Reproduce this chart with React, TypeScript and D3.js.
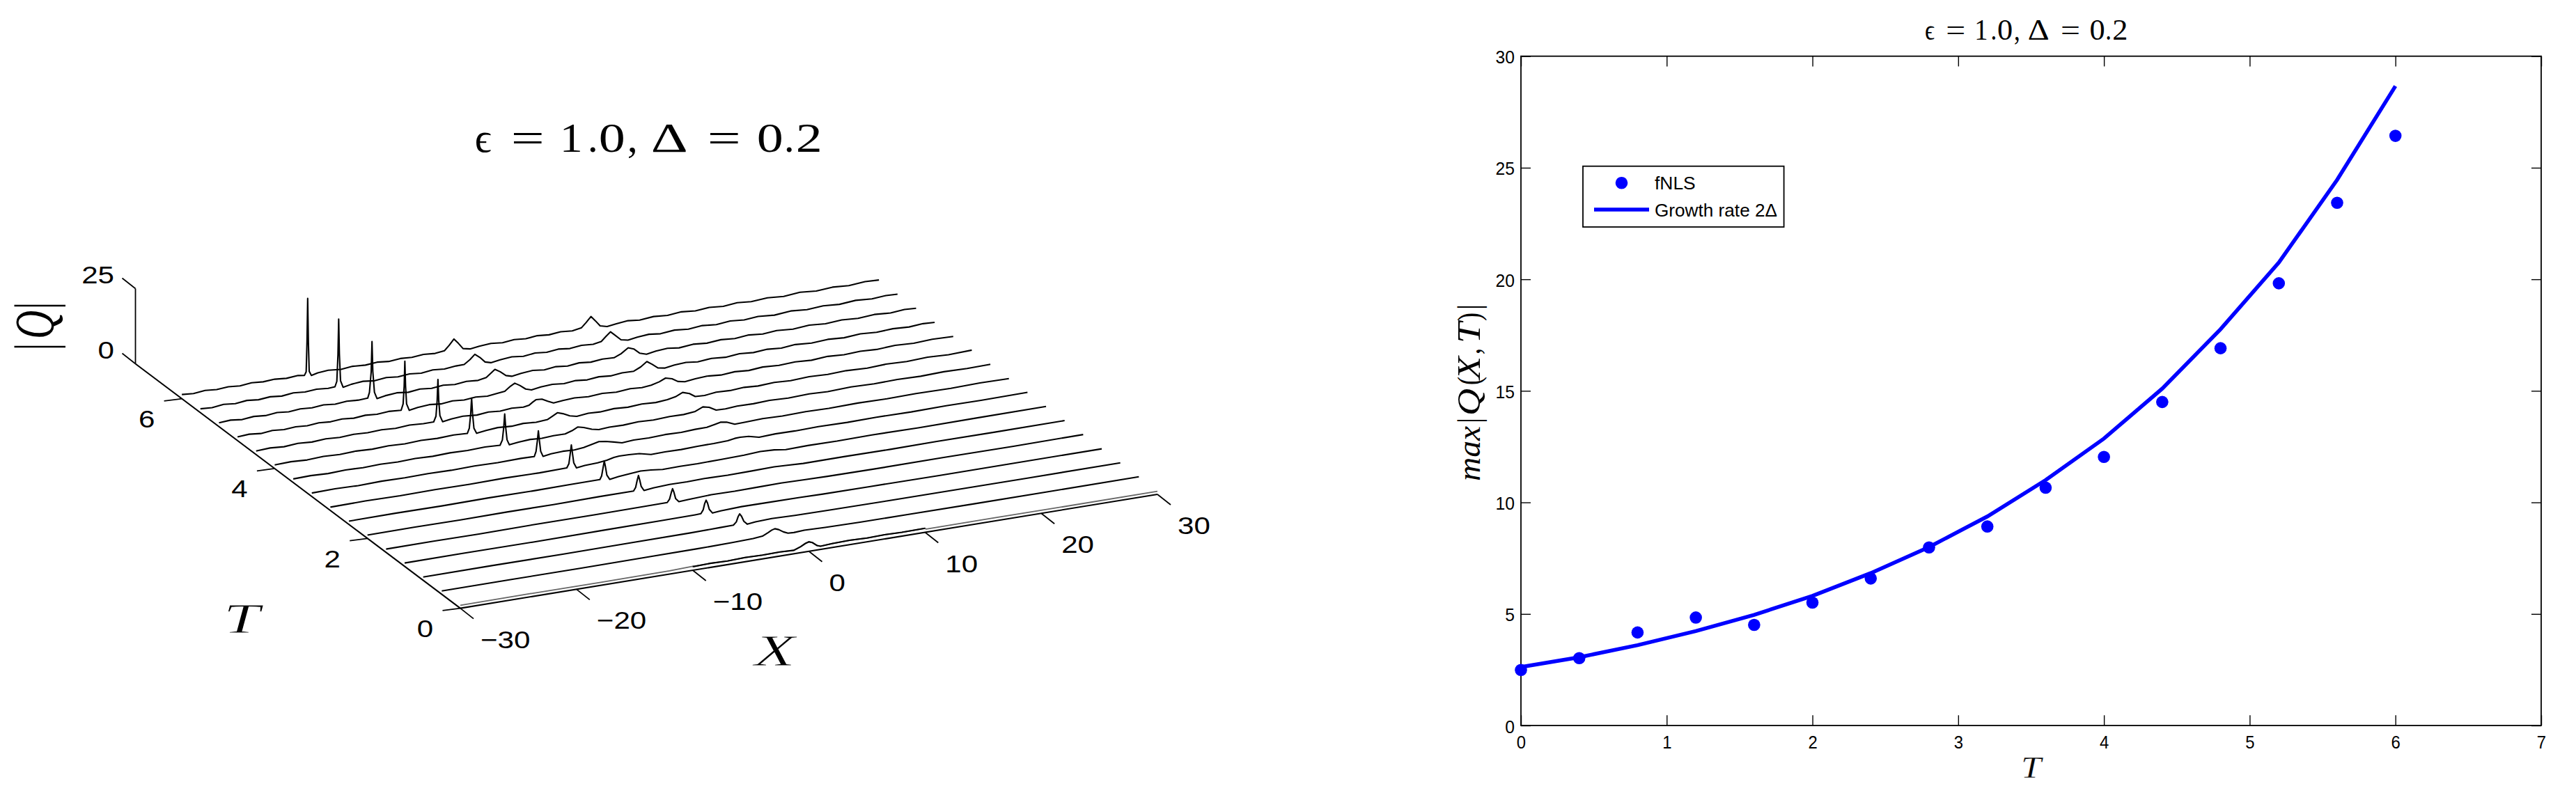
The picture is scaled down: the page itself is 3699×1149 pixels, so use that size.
import React, { useEffect, useRef } from 'react';
import * as d3 from 'd3';

type Pt = [number, number];
type Token = [string, number, number, boolean];

const waterfallT = [0, 0.4, 0.8, 1.2, 1.6, 2, 2.4, 2.8, 3.2, 3.6, 4, 4.4, 4.8, 5.2, 5.6, 6];

const curve00: Pt[] = [[-30,1],[-24,1.05],[-18,1],[-12,1.05],[-10,1.3],[-9.9,1.2],[-8.5,1.35],[-7,1.2],[-5.5,1.4],[-4,1.25],[-2.5,1.35],[-1.3,1.15],[-0.7,2],[-0.3,2.8],[0,3.15],[0.3,2.7],[0.7,1.5],[1,1.05],[2,1.3],[3.5,1.45],[5,1.25],[6.5,1.4],[8,1.25],[10,1.35],[10.1,1],[16,1.05],[22,1],[30,1]];
const curve04: Pt[] = [[-30,1.1],[-24,1.15],[-18,1.1],[-12,1.2],[-8,1.25],[-5,1.4],[-3.2,1.6],[-2.4,1.9],[-1.9,2.8],[-1.6,3.4],[-1.33,3.7],[-1,3.2],[-0.6,2.2],[-0.2,1.5],[0.3,1.4],[1.2,1.6],[3,1.4],[6,1.25],[10,1.2],[16,1.15],[22,1.15],[30,1.2]];
const curve08: Pt[] = [[-30,1.1],[-24,1.15],[-18,1.1],[-12,1.2],[-7,1.25],[-4.5,1.4],[-3.3,1.5],[-3.05,2.4],[-2.9,4],[-2.76,4.9],[-2.6,4],[-2.4,2.2],[-2.1,1.05],[-1.4,1.4],[0,1.6],[2,1.4],[5,1.3],[10,1.2],[16,1.15],[22,1.15],[30,1.2]];
const curve12: Pt[] = [[-30,1.1],[-25,1.15],[-19,1.1],[-13,1.2],[-8,1.25],[-5,1.35],[-4.5,1.4],[-4.3,2.6],[-4.17,4.6],[-4.05,5.6],[-3.93,4.6],[-3.78,2.4],[-3.5,1],[-2.8,1.25],[-1,1.55],[1,1.5],[4,1.45],[6,1.3],[10,1.25],[16,1.15],[22,1.2],[30,1.2]];
const curve16: Pt[] = [[-30,1.1],[-26,1.15],[-22,1.05],[-17,1.2],[-12,1.15],[-8,1.25],[-5.8,1.3],[-5.6,2.3],[-5.45,4.4],[-5.34,5.6],[-5.22,4.3],[-5.08,2.2],[-4.8,0.95],[-4,1.15],[-2,1.5],[0,1.4],[2,1.5],[4,1.6],[6,1.45],[8,1.3],[12,1.2],[18,1.25],[24,1.2],[30,1.3]];
const curve20: Pt[] = [[-30,1.1],[-26,1.2],[-22,1.1],[-18,1.2],[-14,1.15],[-10,1.3],[-7.1,1.3],[-6.92,2.4],[-6.78,4.8],[-6.68,6.2],[-6.58,4.8],[-6.44,2.4],[-6.2,0.9],[-5.4,1.25],[-4,1.55],[-2.5,1.45],[-1,1.6],[1,1.45],[3,1.55],[5,1.7],[6,1.55],[7.5,1.25],[11,1.3],[15,1.2],[19,1.3],[24,1.25],[30,1.3]];
const curve24: Pt[] = [[-30,1.1],[-26,1.2],[-22,1.1],[-18,1.25],[-14,1.15],[-11,1.25],[-8.4,1.3],[-8.25,2.4],[-8.12,5.2],[-8.02,7.2],[-7.92,5.2],[-7.8,2.4],[-7.55,0.8],[-6.8,1.25],[-5.8,1.6],[-4.9,1.9],[-4,1.7],[-3,1.25],[-1.5,1.35],[0,1.25],[2,1.4],[4,1.55],[5.4,1.9],[6.6,1.7],[7.6,1.15],[9.5,1.3],[12,1.2],[15,1.35],[19,1.2],[24,1.3],[30,1.35]];
const curve28: Pt[] = [[-30,1.1],[-27,1.25],[-24,1.1],[-21,1.25],[-18,1.15],[-15,1.3],[-12,1.15],[-9.65,1.3],[-9.47,2.6],[-9.35,6],[-9.26,8.7],[-9.17,6],[-9.05,2.6],[-8.82,0.8],[-8.1,1.15],[-7,1.3],[-6.2,1.7],[-5.6,2.25],[-5.14,2.4],[-4.3,2.35],[-3.4,2.1],[-2.4,1.2],[-1.2,1.3],[0.2,1.2],[1.6,1.4],[3,1.45],[4.2,1.6],[4.8,2],[5.27,2.08],[6,1.9],[6.9,1.05],[8.3,1.3],[10,1.2],[12,1.35],[14.5,1.2],[17,1.35],[20,1.2],[23,1.35],[26,1.25],[30,1.4]];
const curve32: Pt[] = [[-30,1.15],[-28,1.3],[-26,1.1],[-24,1.3],[-22,1.15],[-20,1.3],[-18,1.15],[-16,1.3],[-14,1.15],[-12,1.3],[-10.85,1.2],[-10.7,2.8],[-10.58,6.5],[-10.5,9.5],[-10.42,6.5],[-10.3,2.6],[-10.1,0.8],[-9.4,1.2],[-8.4,1.4],[-7.4,1.2],[-6.6,1.5],[-5.9,2.1],[-5.29,2.66],[-4.7,2.35],[-4,1.7],[-3.3,1],[-2.3,1.3],[-1,1.15],[0.4,1.4],[1.8,1.25],[3,1.5],[4,1.55],[4.7,2.1],[5.17,2.5],[5.7,2.2],[6.4,1.05],[7.4,1.2],[8.8,1.4],[10.5,1.2],[12.5,1.4],[14.5,1.2],[17,1.4],[19.5,1.25],[22,1.4],[25,1.25],[27.5,1.45],[30,1.35]];
const curve36: Pt[] = [[-30,1.2],[-28.5,1.35],[-27,1.1],[-25.5,1.35],[-24,1.15],[-22.5,1.35],[-21,1.15],[-19.5,1.35],[-18,1.15],[-16.5,1.35],[-15,1.2],[-13.5,1.4],[-12.2,1.15],[-12,2.8],[-11.88,7],[-11.8,11.3],[-11.72,7],[-11.6,2.6],[-11.4,0.8],[-10.6,1.2],[-9.6,1.45],[-8.6,1.2],[-7.6,1.45],[-6.6,1.4],[-6,2.1],[-5.52,3],[-5,2.5],[-4.3,1.5],[-3.7,1],[-2.8,1.25],[-1.6,1.15],[-0.3,1.45],[1,1.2],[2.4,1.5],[3.6,1.4],[4.6,1.8],[5.26,2.9],[5.8,2.4],[6.4,1.1],[7.2,1],[8.2,1.3],[9.6,1.2],[11,1.45],[12.6,1.2],[14.4,1.45],[16,1.2],[18,1.5],[20,1.25],[22,1.45],[24,1.25],[26,1.5],[28,1.3],[30,1.45]];
const curve40: Pt[] = [[-30,1.2],[-28.6,1.4],[-27.2,1.1],[-25.8,1.4],[-24.4,1.15],[-23,1.4],[-21.6,1.15],[-20.2,1.4],[-18.8,1.15],[-17.4,1.4],[-16,1.2],[-14.6,1.45],[-13.42,1.2],[-13.25,2.8],[-13.13,7.5],[-13.05,12.7],[-12.97,7.5],[-12.85,2.6],[-12.62,0.75],[-11.8,1.2],[-10.8,1.5],[-9.6,1.2],[-8.6,1.5],[-7.5,1.2],[-6.5,1.5],[-6.1,2.3],[-5.67,3.2],[-5.2,2.6],[-4.6,1.5],[-4,0.95],[-3,1.35],[-2,1.15],[-0.8,1.5],[0.4,1.2],[1.6,1.5],[2.8,1.25],[3.8,1.6],[4.5,2.1],[5.11,3.15],[5.7,2.4],[6.2,1.1],[7,0.95],[8,1.4],[9.2,1.2],[10.4,1.5],[11.6,1.2],[13,1.5],[14.4,1.2],[16,1.5],[17.6,1.25],[19.2,1.5],[21,1.2],[22.6,1.5],[24.4,1.25],[26.2,1.55],[28,1.25],[30,1.5]];
const curve44: Pt[] = [[-30,1.2],[-28.8,1.45],[-27.6,1.1],[-26.4,1.45],[-25.2,1.15],[-24,1.45],[-22.8,1.15],[-21.6,1.45],[-20.4,1.2],[-19.2,1.45],[-18,1.15],[-16.8,1.5],[-15.6,1.2],[-14.72,1.2],[-14.52,3],[-14.42,8],[-14.35,15.1],[-14.28,8],[-14.18,3],[-13.95,0.8],[-13.2,1.25],[-12.2,1.55],[-11,1.15],[-10,1.55],[-9,1.2],[-8,1.55],[-7,1.25],[-6.5,1.6],[-6.2,2.4],[-5.91,3.05],[-5.4,2.9],[-4.9,1.9],[-4.4,1],[-3.6,1.3],[-2.6,1.55],[-1.4,1.2],[-0.2,1.55],[1,1.2],[2.2,1.6],[3.2,1.3],[4,1.6],[4.7,2.3],[5.24,3.2],[5.8,2.6],[6.3,1.4],[6.9,0.95],[7.8,1.35],[8.8,1.6],[10,1.2],[11.2,1.55],[12.4,1.2],[13.6,1.6],[15,1.25],[16.4,1.55],[17.8,1.2],[19.2,1.6],[20.6,1.25],[22,1.55],[23.4,1.25],[25,1.6],[26.6,1.3],[28.2,1.6],[30,1.4]];
const curve48: Pt[] = [[-30,1.25],[-29,1.5],[-28,1.1],[-27,1.5],[-26,1.15],[-25,1.45],[-24,1.15],[-23,1.5],[-22,1.2],[-21,1.5],[-20,1.15],[-19,1.5],[-18,1.2],[-17,1.5],[-15.92,1.2],[-15.75,3.2],[-15.66,9],[-15.6,17.3],[-15.54,9],[-15.45,3],[-15.22,0.75],[-14.5,1.25],[-13.5,1.55],[-12.5,1.15],[-11.5,1.55],[-10.5,1.2],[-9.5,1.55],[-8.5,1.2],[-7.6,1.6],[-7,1.9],[-6.5,3.3],[-6.14,4.03],[-5.7,3],[-5.2,1.5],[-4.7,0.9],[-3.9,1.35],[-2.9,1.6],[-1.9,1.2],[-0.9,1.6],[0.1,1.2],[1.1,1.6],[2.1,1.25],[3.1,1.65],[4.1,1.55],[4.7,2.6],[5.23,4.05],[5.7,2.8],[6.2,1.3],[6.8,0.9],[7.6,1.4],[8.6,1.65],[9.6,1.2],[10.8,1.6],[12,1.2],[13.2,1.65],[14.4,1.25],[15.6,1.6],[16.8,1.2],[18,1.65],[19.4,1.25],[20.8,1.6],[22.2,1.25],[23.6,1.65],[25,1.3],[26.4,1.6],[27.8,1.3],[29,1.65],[30,1.45]];
const curve52: Pt[] = [[-30,1.3],[-29,1.55],[-28,1.1],[-27,1.5],[-26,1.15],[-25,1.55],[-24,1.15],[-23,1.5],[-22,1.2],[-21,1.55],[-20,1.15],[-19,1.5],[-18,1.25],[-17.2,1.4],[-17.05,3.2],[-16.9,10],[-16.83,20],[-16.76,10],[-16.62,3],[-16.4,0.75],[-15.7,1.25],[-14.7,1.6],[-13.7,1.15],[-12.7,1.6],[-11.7,1.2],[-10.7,1.6],[-9.7,1.2],[-8.7,1.6],[-7.7,1.3],[-7,1.8],[-6.6,3],[-6.25,4.05],[-5.8,3],[-5.3,1.4],[-4.8,0.85],[-4,1.3],[-3,1.65],[-2,1.2],[-1,1.65],[0,1.2],[1,1.65],[2,1.25],[3,1.65],[4,1.45],[4.6,2.4],[5.22,4],[5.7,3.3],[6.2,1.6],[6.8,0.85],[7.6,1.4],[8.6,1.7],[9.6,1.2],[10.8,1.65],[12,1.25],[13.2,1.65],[14.4,1.25],[15.6,1.7],[16.8,1.25],[18,1.65],[19.4,1.25],[20.8,1.7],[22.2,1.25],[23.6,1.65],[25,1.3],[26.4,1.7],[27.8,1.3],[29,1.7],[30,1.5]];
const curve56: Pt[] = [[-30,1.3],[-29,1.05],[-28,1.5],[-27,1.1],[-26,1.55],[-25,1.15],[-24,1.5],[-23,1.1],[-22,1.55],[-21,1.2],[-20,1.5],[-19,1.15],[-18.42,1.3],[-18.26,3],[-18.16,12],[-18.1,23.6],[-18.04,12],[-17.94,3],[-17.72,0.7],[-17,1.25],[-16,1.6],[-15,1.15],[-14,1.6],[-13,1.2],[-12,1.55],[-11,1.15],[-10,1.6],[-9,1.25],[-8,1.65],[-7.3,1.7],[-6.8,3],[-6.38,4.5],[-5.95,3.2],[-5.5,1.4],[-5,0.85],[-4.2,1.3],[-3.2,1.65],[-2.2,1.2],[-1.2,1.65],[-0.2,1.25],[0.8,1.7],[1.8,1.25],[2.8,1.7],[3.8,1.4],[4.5,1.9],[4.9,3.3],[5.3,4.6],[5.7,3.2],[6.2,1.4],[6.8,0.9],[7.6,1.4],[8.6,1.7],[9.6,1.25],[10.8,1.7],[12,1.25],[13.2,1.7],[14.4,1.25],[15.6,1.7],[16.8,1.3],[18,1.7],[19.4,1.25],[20.8,1.75],[22.2,1.3],[23.6,1.7],[25,1.3],[26.4,1.75],[27.8,1.35],[29,1.7],[30,1.55]];
const curve60: Pt[] = [[-30,1.4],[-29,1.1],[-28,1.5],[-27,1.15],[-26,1.45],[-25,1.1],[-24,1.5],[-23,1.2],[-22,1.45],[-21,1.1],[-20,1.4],[-19.45,1.1],[-19.3,2.2],[-19.23,12],[-19.17,26.5],[-19.11,12],[-19.04,2.2],[-18.85,0.7],[-18.3,1.2],[-17.4,1.5],[-16.3,1.1],[-15.3,1.5],[-14.2,1.2],[-13.2,1.55],[-12.2,1.15],[-11.2,1.5],[-10.2,1.25],[-9.2,1.6],[-8.2,1.3],[-7.4,1.7],[-7,3.2],[-6.58,5.07],[-6.2,3.4],[-5.8,1.4],[-5.2,0.9],[-4.4,1.3],[-3.4,1.6],[-2.4,1.2],[-1.4,1.6],[-0.4,1.25],[0.6,1.65],[1.6,1.3],[2.6,1.7],[3.6,1.35],[4.4,1.9],[4.8,3.4],[5.21,5.1],[5.6,3.4],[6,1.5],[6.6,0.9],[7.4,1.3],[8.4,1.7],[9.4,1.25],[10.6,1.7],[11.8,1.3],[13,1.75],[14.2,1.3],[15.4,1.7],[16.6,1.3],[17.8,1.75],[19,1.35],[20.4,1.75],[21.8,1.3],[23.2,1.8],[24.6,1.35],[26,1.75],[27.4,1.35],[28.8,1.8],[30,1.6]];

const waterfallCurves = [curve00, curve04, curve08, curve12, curve16, curve20, curve24, curve28, curve32, curve36, curve40, curve44, curve48, curve52, curve56, curve60];

const xTicks3d = [-30, -20, -10, 0, 10, 20, 30];
const tTicks3d = [0, 2, 4, 6];
const qTicks3d = [0, 25];

// right panel
const sampleT = [0, 0.4, 0.8, 1.2, 1.6, 2, 2.4, 2.8, 3.2, 3.6, 4, 4.4, 4.8, 5.2, 5.6, 6];
const fnlsMax = [2.49, 3.02, 4.17, 4.84, 4.51, 5.51, 6.59, 7.98, 8.92, 10.66, 12.04, 14.5, 16.91, 19.82, 23.43, 26.43];
const growthLine = [2.62, 3.06, 3.6, 4.23, 4.96, 5.81, 6.83, 8.0, 9.37, 11.0, 12.86, 15.1, 17.76, 20.75, 24.46, 28.66];
const xTicks2d = [0, 1, 2, 3, 4, 5, 6, 7];
const yTicks2d = [0, 5, 10, 15, 20, 25, 30];

// the typeset labels are laid out glyph by glyph: [text, offset, width, italic]
const titleTokens: Token[] = [
  ['ϵ', 0, 24, false], ['=', 52, 48, false], ['1', 122, 33, false], ['.', 162, 15, false],
  ['0', 178, 38, false], [',', 219, 15, false], ['Δ', 253, 53, false], ['=', 334, 48, false],
  ['0', 405, 38, false], ['.', 444, 15, false], ['2', 461, 38, false],
];
const maxLabelTokens: Token[] = [
  ['max', 0, 79, true], ['|', 83, 8, false], ['Q', 94, 39, true], ['(', 138, 12, false],
  ['X', 146, 33, true], [',', 182, 9, false], ['T', 198, 30, true], [')', 230, 12, false],
  ['|', 246, 8, false],
];
const absQTokens: Token[] = [
  ['|', -4, 10, false], ['Q', 12, 41, true], ['|', 55, 10, false],
];

const BLUE = '#0000ff';
const SERIF = '"Liberation Serif", serif';
const SANS = '"Liberation Sans", Arial, sans-serif';

const App: React.FC = () => {
  const svgRef = useRef<SVGSVGElement>(null);

  useEffect(() => {
    if (!svgRef.current) return;
    const svg = d3.select(svgRef.current);
    svg.selectAll('*').remove();

    const placeTokens = (parent: any, tokens: Token[], size: number, k: number, transform: string) => {
      const g = parent.append('g').attr('transform', transform);
      tokens.forEach(([s, pos, w, it]) => {
        g.append('text')
          .attr('x', pos * k)
          .attr('font-family', SERIF)
          .attr('font-size', size)
          .attr('font-style', it ? 'italic' : 'normal')
          .attr('textLength', w * k)
          .attr('lengthAdjust', 'spacingAndGlyphs')
          .text(s);
      });
    };

    // single wide italic letters: white stroke on top keeps the stems thin after stretching
    const wideLetter = (parent: any, s: string, x0: number, y0: number, size: number, w: number, thin: number) =>
      parent.append('text')
        .attr('x', x0).attr('y', y0)
        .attr('font-family', SERIF)
        .attr('font-style', 'italic')
        .attr('font-size', size)
        .attr('textLength', w)
        .attr('lengthAdjust', 'spacingAndGlyphs')
        .attr('stroke', '#fff')
        .attr('stroke-width', thin)
        .text(s);

    // ---- left: waterfall ----
    const left = svg.append('g');
    const xPx = d3.scaleLinear().domain([-30, 30]).range([661, 1662]);
    const xPy = d3.scaleLinear().domain([-30, 30]).range([873.6, 710]);
    const tPx = d3.scaleLinear().domain([0, 7]).range([0, -466.5]);
    const tPy = d3.scaleLinear().domain([0, 7]).range([0, -351.1]);
    const qPy = d3.scaleLinear().domain([0, 25]).range([0, -108]);
    const project = (X: number, T: number, Q: number): Pt => [xPx(X) + tPx(T), xPy(X) + tPy(T) + qPy(Q)];

    const seg = (g: any, a: Pt, b: Pt, w = 1.8) =>
      g.append('line')
        .attr('x1', a[0]).attr('y1', a[1]).attr('x2', b[0]).attr('y2', b[1])
        .attr('stroke', '#000').attr('stroke-width', w);

    seg(left, project(-30, 0, 0), project(30, 0, 0), 2.1);
    seg(left, project(-30, 0, 0), project(-30, 7, 0), 2.1);
    seg(left, project(-30, 7, 0), project(-30, 7, 25));

    const numLabel = (x: number, y: number, s: string, anchor: string) =>
      left.append('text')
        .attr('transform', `translate(${x},${y}) scale(1.17,1)`)
        .attr('font-family', SANS)
        .attr('font-size', 36)
        .attr('text-anchor', anchor)
        .text(s);

    xTicks3d.forEach(v => {
      const p = project(v, 0, 0);
      const end: Pt = [p[0] + 19, p[1] + 15];
      seg(left, p, end);
      numLabel(end[0] + 10, end[1] + 42, v < 0 ? `−${-v}` : `${v}`, 'start');
    });
    tTicks3d.forEach(v => {
      const p = project(-30, v, 0);
      const end: Pt = [p[0] - 25.5, p[1] + 3.3];
      seg(left, p, end);
      numLabel(end[0] - 25, end[1] + 38, `${v}`, 'middle');
    });
    qTicks3d.forEach(v => {
      const p = project(-30, 7, v);
      const end: Pt = [p[0] - 19, p[1] - 15];
      seg(left, p, end);
      numLabel(164, p[1] - 8, `${v}`, 'end');
    });

    const line3d = (T: number) => d3.line<Pt>()
      .x(d => project(d[0], T, d[1])[0])
      .y(d => project(d[0], T, d[1])[1]);

    waterfallCurves.forEach((pts, i) => {
      const T = waterfallT[i];
      // the T=0 profile prints grey outside the hump
      left.append('path')
        .attr('d', line3d(T)(pts))
        .attr('fill', 'none')
        .attr('stroke', i === 0 ? '#666' : '#000')
        .attr('stroke-width', i === 0 ? 1.8 : 2.1)
        .attr('stroke-linejoin', 'round');
      if (i === 0) {
        left.append('path')
          .attr('d', line3d(T)(pts.filter(d => d[0] >= -10 && d[0] <= 10)))
          .attr('fill', 'none')
          .attr('stroke', '#000')
          .attr('stroke-width', 2.1);
      }
    });

    placeTokens(left, titleTokens, 60, 1, 'translate(681.7,218)');
    placeTokens(left, absQTokens, 80, 1, 'translate(77,499) rotate(-90)');
    wideLetter(left, 'T', 321, 909, 62, 52, 0.9);
    wideLetter(left, 'X', 1083, 956, 63, 59, 0.9);

    // ---- right: growth ----
    const x = d3.scaleLinear().domain([0, 7]).range([2184, 3649]);
    const y = d3.scaleLinear().domain([0, 30]).range([1042, 80.7]);
    const right = svg.append('g');

    const styleAxis = (g: any) => {
      g.select('.domain').remove();
      g.selectAll('.tick line').attr('stroke', '#000').attr('stroke-width', 1.4);
      g.selectAll('text')
        .attr('font-family', SANS)
        .attr('font-size', 26)
        .attr('fill', '#000');
    };

    const bottomAxis = right.append('g')
      .attr('transform', 'translate(0,1042)')
      .call(d3.axisBottom(x).tickValues(xTicks2d).tickSizeInner(-14.7).tickSizeOuter(0).tickFormat(d3.format('d') as any));
    styleAxis(bottomAxis);
    bottomAxis.selectAll('text').attr('y', 33.5).attr('dy', 0).attr('transform', 'scale(0.92,1)');

    const topAxis = right.append('g')
      .attr('transform', 'translate(0,80.7)')
      .call(d3.axisTop(x).tickValues(xTicks2d).tickSizeInner(-14.7).tickSizeOuter(0).tickFormat(() => ''));
    styleAxis(topAxis);

    const leftAxis = right.append('g')
      .attr('transform', 'translate(2184,0)')
      .call(d3.axisLeft(y).tickValues(yTicks2d).tickSizeInner(-14).tickSizeOuter(0).tickFormat(d3.format('d') as any));
    styleAxis(leftAxis);
    leftAxis.selectAll('text').attr('x', -9).attr('dy', 10).attr('transform', 'translate(-9,0) scale(0.95,1) translate(9,0)');

    const rightAxis = right.append('g')
      .attr('transform', 'translate(3649,0)')
      .call(d3.axisRight(y).tickValues(yTicks2d).tickSizeInner(-14).tickSizeOuter(0).tickFormat(() => ''));
    styleAxis(rightAxis);

    right.append('rect')
      .attr('x', 2184).attr('y', 80.7).attr('width', 1465).attr('height', 961.3)
      .attr('fill', 'none').attr('stroke', '#000').attr('stroke-width', 1.8);

    const growth = d3.line<number>()
      .x((_, i) => x(sampleT[i]))
      .y(d => y(d));
    right.append('path')
      .attr('d', growth(growthLine))
      .attr('fill', 'none')
      .attr('stroke', BLUE)
      .attr('stroke-width', 5.5);

    right.selectAll('circle.pt')
      .data(fnlsMax)
      .join('circle')
      .attr('class', 'pt')
      .attr('cx', (_, i) => x(sampleT[i]))
      .attr('cy', d => y(d))
      .attr('r', 8.8)
      .attr('fill', BLUE);

    // legend
    const legend = right.append('g');
    legend.append('rect')
      .attr('x', 2273).attr('y', 238.7).attr('width', 288.6).attr('height', 87.3)
      .attr('fill', '#fff').attr('stroke', '#000').attr('stroke-width', 1.8);
    legend.append('circle').attr('cx', 2328.5).attr('cy', 262.7).attr('r', 8.8).attr('fill', BLUE);
    legend.append('line')
      .attr('x1', 2289).attr('x2', 2368).attr('y1', 301).attr('y2', 301)
      .attr('stroke', BLUE).attr('stroke-width', 5.5);
    legend.append('text')
      .attr('x', 2376).attr('y', 271.7)
      .attr('font-family', SANS).attr('font-size', 26)
      .attr('textLength', 58.7).attr('lengthAdjust', 'spacingAndGlyphs')
      .text('fNLS');
    legend.append('text')
      .attr('x', 2376).attr('y', 311)
      .attr('font-family', SANS).attr('font-size', 26)
      .attr('textLength', 176).attr('lengthAdjust', 'spacingAndGlyphs')
      .text('Growth rate 2Δ');

    placeTokens(right, titleTokens, 43, 0.584, 'translate(2764,57)');
    wideLetter(right, 'T', 2902, 1117, 44, 29, 0.4);
    placeTokens(right, maxLabelTokens, 46, 1, 'translate(2125,691) rotate(-90)');
  }, []);

  return (
    <svg
      ref={svgRef}
      width={3699}
      height={1149}
      style={{ position: 'absolute', left: 0, top: 0, display: 'block', background: '#fff' }}
    />
  );
};

export default App;
